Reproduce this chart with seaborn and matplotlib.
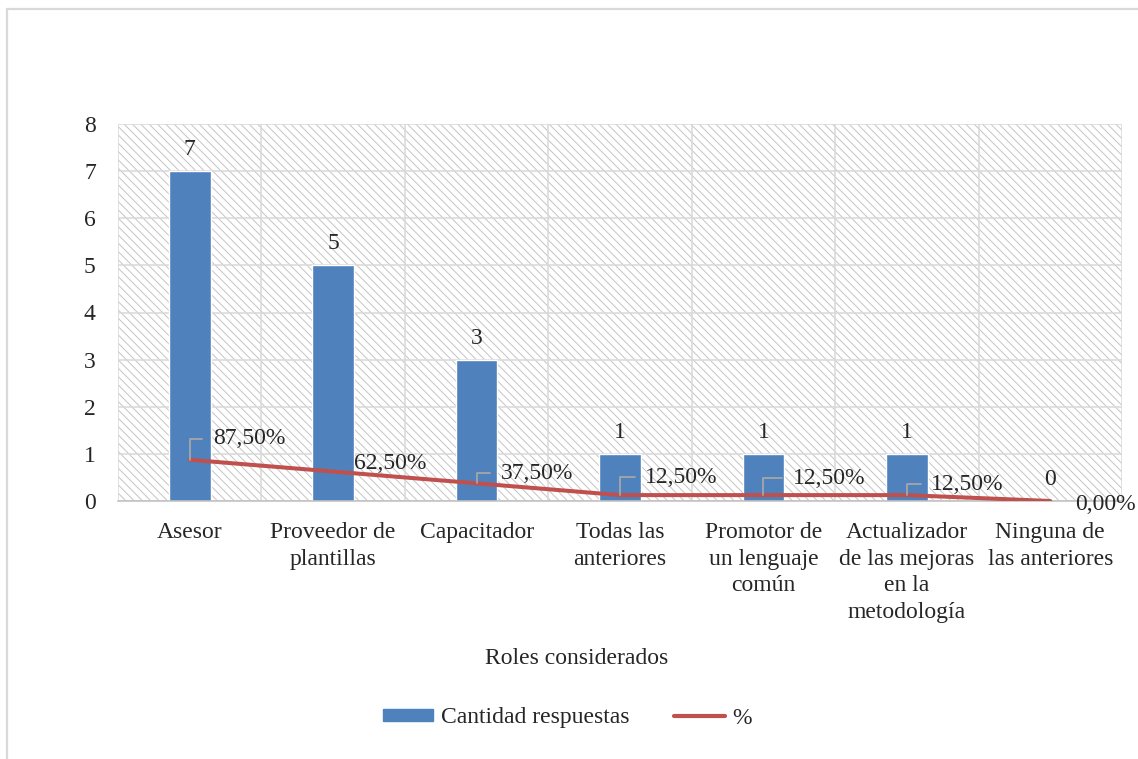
import matplotlib
matplotlib.use("Agg")
import matplotlib.pyplot as plt
import matplotlib.patches as mpatches
from matplotlib.lines import Line2D
import seaborn as sns
import numpy as np
import pandas as pd

# Datos
roles = ["Asesor", "Proveedor de\nplantillas", "Capacitador", "Todas las\nanteriores",
         "Promotor de\nun lenguaje\ncomún", "Actualizador\nde las mejoras\nen la\nmetodología",
         "Ninguna de\nlas anteriores"]
cantidad = [7, 5, 3, 1, 1, 1, 0]
porcentaje = [0.875, 0.625, 0.375, 0.125, 0.125, 0.125, 0.0]
etiquetas_pct = ["87,50%", "62,50%", "37,50%", "12,50%", "12,50%", "12,50%", "0,00%"]

# posicion de las etiquetas de % (pixeles) y si llevan linea guia
desplaz = [(23, 21), (21, 8), (24, 10), (25, 18), (29, 17), (24, 11), (25, -4)]
guia = [True, False, True, True, True, True, False]

sns.set_style("white")
plt.rcParams['font.family'] = ['Liberation Serif', 'DejaVu Serif']
plt.rcParams['hatch.linewidth'] = 0.7
plt.rcParams['hatch.color'] = '#C4C4C4'

azul = '#4F81BD'
rojo = '#C0504D'
gris = '#D9D9D9'
fs = 17

fig = plt.figure(figsize=(11.38, 7.59), dpi=100)
ax = fig.add_axes([118 / 1138, 1 - 501 / 759, 1004 / 1138, 377 / 759])

# fondo rayado del area de trazado
fondo = mpatches.Rectangle((0, 0), 1, 1, transform=ax.transAxes, facecolor='white',
                           edgecolor='#C4C4C4', hatch='\\\\\\\\', lw=0, zorder=0.1)
ax.add_patch(fondo)

df = pd.DataFrame({'rol': roles, 'cantidad': cantidad, 'pct': porcentaje, 'pos': np.arange(len(roles))})

sns.barplot(data=df, x='rol', y='cantidad', color=azul, saturation=1, width=0.29, ax=ax, zorder=2)
sns.lineplot(data=df, x='pos', y='pct', color=rojo, lw=2.9, ax=ax, zorder=3)

ax.bar_label(ax.containers[0], labels=[str(c) for c in cantidad], padding=8, fontsize=fs)

for i in range(len(roles)):
    if guia[i]:
        ax.annotate(etiquetas_pct[i], xy=(i, porcentaje[i]), xytext=desplaz[i],
                    textcoords='offset pixels', ha='left', va='center', fontsize=fs, zorder=4,
                    arrowprops=dict(arrowstyle='-', color='#A6A6A6', lw=1.3,
                                    connectionstyle='angle,angleA=0,angleB=90,rad=0',
                                    relpos=(0, 0.5), shrinkA=5, shrinkB=0))
    else:
        ax.annotate(etiquetas_pct[i], xy=(i, porcentaje[i]), xytext=desplaz[i],
                    textcoords='offset pixels', ha='left', va='center', fontsize=fs, zorder=4,
                    annotation_clip=False)

ax.set_xlim(-0.5, len(roles) - 0.5)
ax.set_ylim(0, 8)
ax.set_yticks(range(9))
ax.set_xticks(range(len(roles)))
ax.set_xticklabels(roles, linespacing=1.36, fontsize=fs)
ax.set_xticks(np.arange(-0.5, len(roles), 1), minor=True)
ax.tick_params(axis='y', length=0, pad=16, labelsize=fs)
ax.tick_params(axis='x', which='major', length=0, pad=15)
ax.tick_params(axis='x', which='minor', length=6.5, width=1.1, color=gris)
ax.set_axisbelow(True)
ax.grid(axis='y', color=gris, lw=1.1)
ax.grid(axis='x', which='minor', color=gris, lw=1.1)
ax.set_xlabel('')
ax.set_ylabel('')
for s in ['top', 'right', 'left']:
    ax.spines[s].set_visible(False)
ax.spines['bottom'].set_color('#BFBFBF')
ax.spines['bottom'].set_linewidth(1.1)

fig.text(577 / 1138, 1 - 658 / 759, 'Roles considerados', ha='center', va='center', fontsize=fs)

handles = [mpatches.Patch(color=azul, label='Cantidad respuestas'),
           Line2D([], [], color=rojo, lw=3, label='%')]
fig.legend(handles=handles, loc='center', bbox_to_anchor=(567 / 1138, 1 - 718 / 759), ncol=2,
           frameon=False, fontsize=fs, handlelength=2.15, handleheight=0.45,
           handletextpad=0.3, columnspacing=1.9)

# marco del grafico
marco = mpatches.Rectangle((7 / 1138, -0.1), 1.2, 1.1 - 9 / 759, transform=fig.transFigure,
                           fill=False, edgecolor=gris, lw=1.6, clip_on=False)
fig.patches.append(marco)

fig.savefig('out.png', dpi=100)
